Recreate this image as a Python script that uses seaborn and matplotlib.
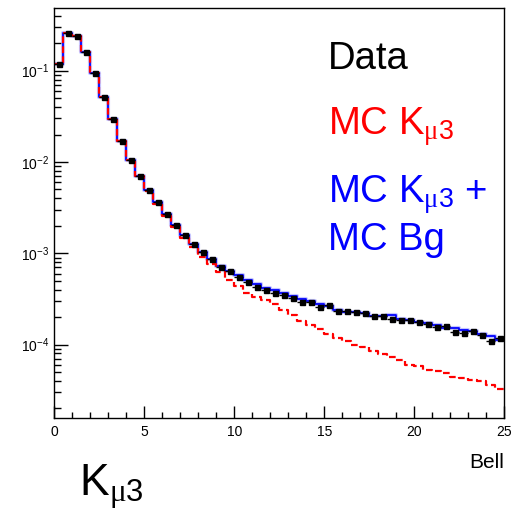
import numpy as np
import pandas as pd
import matplotlib
matplotlib.use("Agg")
import matplotlib.pyplot as plt
import seaborn as sns

# ---------------- data ----------------
bin_edges = np.arange(0, 25.01, 0.5)
bin_centers = (bin_edges[:-1] + bin_edges[1:]) / 2

data_vals = [0.119, 0.257, 0.241, 0.159, 0.0944, 0.0515, 0.0296, 0.01686, 0.01051, 0.00703,
             0.00493, 0.00365, 0.00269, 0.00203, 0.00157, 0.00127, 0.001025, 0.000859, 0.000714, 0.000646,
             0.000555, 0.000489, 0.000428, 0.000399, 0.000367, 0.000347, 0.000324, 0.000295, 0.000295, 0.000260,
             0.000272, 0.000232, 0.000235, 0.000229, 0.000220, 0.000207, 0.000204, 0.000191, 0.000186, 0.000186,
             0.000178, 0.000167, 0.000157, 0.000161, 0.000138, 0.000135, 0.000141, 0.000126, 0.000110, 0.000117]

mc_kmu3 = [0.119, 0.257, 0.241, 0.159, 0.0944, 0.0515, 0.0296, 0.01686, 0.01051, 0.00700,
           0.00485, 0.00344, 0.00256, 0.00193, 0.00148, 0.00116, 0.000919, 0.000759, 0.000624, 0.000510,
           0.000439, 0.000370, 0.000335, 0.000308, 0.000279, 0.000239, 0.000211, 0.000181, 0.000164, 0.000148,
           0.000131, 0.000117, 0.000110, 0.0000991, 0.0000953, 0.0000857, 0.0000788, 0.0000726, 0.0000678, 0.0000598,
           0.0000583, 0.0000527, 0.0000514, 0.0000485, 0.0000445, 0.0000434, 0.0000409, 0.0000402, 0.0000361, 0.0000324]

mc_total = [0.119, 0.257, 0.241, 0.159, 0.0944, 0.0515, 0.0296, 0.01686, 0.01051, 0.00703,
            0.00493, 0.00365, 0.00269, 0.00203, 0.00157, 0.00127, 0.001025, 0.000859, 0.000726, 0.000640,
            0.000578, 0.000509, 0.000466, 0.000422, 0.000396, 0.000372, 0.000341, 0.000320, 0.000301, 0.000282,
            0.000265, 0.000242, 0.000229, 0.000229, 0.000220, 0.000207, 0.000207, 0.000211, 0.000189, 0.000186,
            0.000178, 0.000171, 0.000165, 0.000153, 0.000151, 0.000145, 0.000142, 0.000131, 0.000125, 0.000112]

x_ticks = [0, 5, 10, 15, 20, 25]

df = pd.DataFrame({"Bell": bin_centers, "data": data_vals,
                   "mc_kmu3": mc_kmu3, "mc_total": mc_total})

# ---------------- style ----------------
sns.set_style("ticks")
plt.rcParams["font.family"] = ["Liberation Sans", "DejaVu Sans"]
plt.rcParams["mathtext.fontset"] = "custom"
plt.rcParams["mathtext.rm"] = "Liberation Sans"
plt.rcParams["mathtext.it"] = "Liberation Serif"
plt.rcParams["mathtext.bf"] = "Liberation Sans:bold"

W, H = 523, 517
fig = plt.figure(figsize=(W / 100, H / 100), dpi=100)
ax = fig.add_axes([54.3 / W, 1 - 417.7 / H, (504.3 - 54.3) / W, (417.7 - 7.5) / H])

hist_kw = dict(data=df, x="Bell", binwidth=0.5, binrange=(0, 25), element="step",
               fill=False, ax=ax)
# MC total (blue) with faint halo
sns.histplot(weights="mc_total", color="#8080ff", linewidth=3.0, alpha=0.45, **hist_kw)
sns.histplot(weights="mc_total", color="#0000ff", linewidth=1.3, **hist_kw)
# MC K_mu3 (red dashed)
sns.histplot(weights="mc_kmu3", color="#ff0000", linewidth=1.6,
             linestyle=(0, (3.0, 1.5)), **hist_kw)
# data points
ax.errorbar(df["Bell"], df["data"], xerr=0.25, fmt="s", color="black",
            markersize=3.6, elinewidth=1.0, capsize=0, zorder=5)

ax.set_yscale("log")
ax.set_xlim(0, 25)
ax.set_ylim(1.585e-5, 0.492)
ax.set_xticks(x_ticks)
ax.set_xticklabels([str(t) for t in x_ticks])
ax.xaxis.set_minor_locator(matplotlib.ticker.MultipleLocator(1))
ax.tick_params(axis="both", which="both", direction="in", top=False, right=False,
               colors="black", labelsize=10, width=1.0)
ax.tick_params(axis="x", which="major", length=9, pad=5)
ax.tick_params(axis="x", which="minor", length=4.3)
ax.tick_params(axis="y", which="major", length=10, pad=3.5)
ax.tick_params(axis="y", which="minor", length=5)
ax.yaxis.set_minor_formatter(matplotlib.ticker.NullFormatter())
ax.set_xlabel("")
ax.set_ylabel("")
for s in ax.spines.values():
    s.set_linewidth(1.0)
    s.set_color("black")

# texts
def fx(px):
    return px / W

def fy(py):
    return 1 - py / H

fs = 27.5
fig.text(fx(328.3), fy(69.3), "Data", color="black", fontsize=fs, va="baseline", ha="left")
fig.text(fx(328.3), fy(135.0), r"MC K$_{\mathit{\mu}3}$", color="#ff0000", fontsize=fs, va="baseline", ha="left")
fig.text(fx(328.3), fy(202.7), r"MC K$_{\mathit{\mu}3}$ +", color="#0000ff", fontsize=fs, va="baseline", ha="left")
fig.text(fx(328.3), fy(250.5), "MC Bg", color="#0000ff", fontsize=fs, va="baseline", ha="left")
fig.text(fx(504.3), fy(468.3), "Bell", color="black", fontsize=15, va="baseline", ha="right")
fig.text(fx(79.3), fy(496.0), r"K$_{\mathit{\mu}3}$", color="black", fontsize=32, va="baseline", ha="left")

fig.savefig("out.png", dpi=100)
